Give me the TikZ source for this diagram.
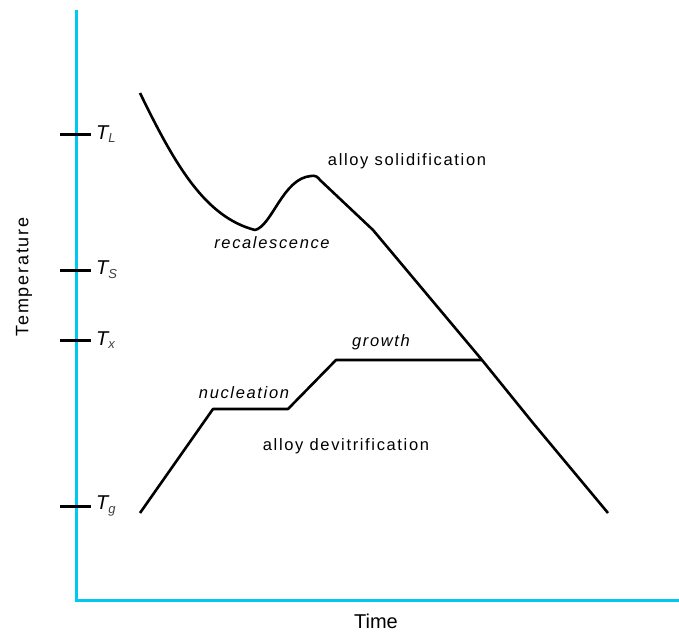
\documentclass[tikz,border=0pt]{standalone}
\usepackage{fontspec}
\setmainfont{Liberation Sans}
\newfontfamily\lab[LetterSpace=10]{Liberation Sans}
\definecolor{axiscol}{RGB}{0,200,245}
\begin{document}
\begin{tikzpicture}[x=1pt,y=-1pt,
  axisline/.style={axiscol,line width=3pt},
  curve/.style={black,line width=2.6pt,line join=round},
  tickmark/.style={black,line width=3pt},
  lbl/.style={font=\fontsize{16.5}{18}\lab, inner sep=0pt},
  ilbl/.style={font=\fontsize{16.5}{18}\lab\itshape, inner sep=0pt},
  tlbl/.style={font=\fontsize{20}{22}\selectfont\itshape, inner sep=0pt, anchor=west}]
\useasboundingbox (0,0) rectangle (679,634);
% axes
\coordinate (top) at (76,10);
\coordinate (orig) at (76,600);
\coordinate (right) at (679,600);
\draw[axisline] (top) -- (orig) -- (right);
% ticks
\foreach \yy/\nm/\sub in {134/TL/L,270/TS/S,340/Tx/x,506/Tg/g}{
  \coordinate (a\nm) at (60,\yy);
  \coordinate (b\nm) at (91,\yy);
  \draw[tickmark] (a\nm) -- (b\nm);
  \node[tlbl] (l\nm) at (96,\yy) {T\raisebox{-0.35ex}{\fontsize{13}{14}\selectfont\color{black!75}\sub}};
}
% solidification curve
\coordinate (s0) at (140,93);
\coordinate (smin) at (255,230);
\coordinate (speak) at (311,176);
\coordinate (s1) at (373,230);
\coordinate (s2) at (482,360);
\coordinate (s3) at (533,423);
\coordinate (s4) at (608,513);
\draw[curve] (s0) .. controls (175,165) and (205,217) .. (smin)
  .. controls (272,226) and (283,178) .. (speak)
  .. controls (315,175) and (318,177) .. (320,180)
  -- (s1) -- (s2) -- (s3) -- (s4);
% devitrification curve
\coordinate (d0) at (140,513);
\coordinate (d1) at (213,409);
\coordinate (d2) at (288,409);
\coordinate (d3) at (336,360);
\draw[curve] (d0) -- (d1) -- (d2) -- (d3) -- (s2);
% labels
\node[lbl] (sol) at (407,161) {alloy solidification};
\node[ilbl] (rec) at (272,243) {recalescence};
\node[ilbl] (gro) at (381,342) {growth};
\node[ilbl] (nuc) at (244,393) {nucleation};
\node[lbl] (dev) at (346,446) {alloy devitrification};
\node[font=\fontsize{20}{22}\selectfont, inner sep=0pt] (time) at (376,621) {Time};
\node[font=\fontsize{18}{20}\lab, inner sep=0pt, rotate=90] (temp) at (24,277) {Temperature};
\end{tikzpicture}
\end{document}
